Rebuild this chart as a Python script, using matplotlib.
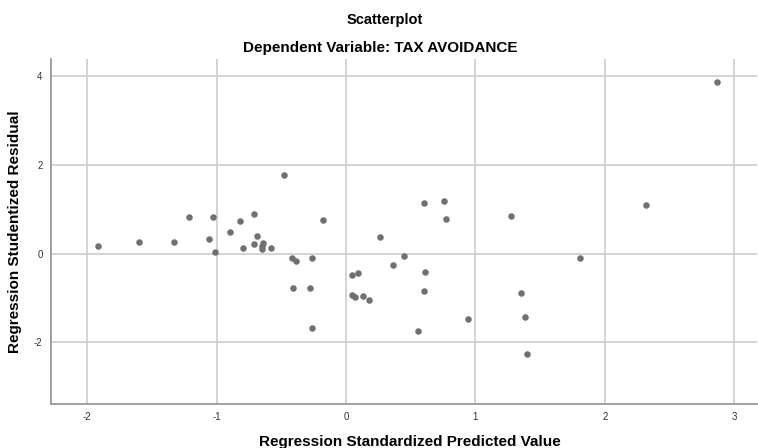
import matplotlib
matplotlib.use("Agg")
import matplotlib.pyplot as plt

plt.rcParams['font.family'] = ['Liberation Sans', 'DejaVu Sans']
plt.rcParams['axes.unicode_minus'] = False

# regression standardized predicted value
pred = [-1.92, -1.60, -1.33, -1.21, -1.06, -1.03, -1.01, -0.90, -0.82, -0.80,
        -0.71, -0.69, -0.71, -0.64, -0.65, -0.65, -0.58, -0.48, -0.42, -0.39,
        -0.26, -0.18, 0.05, 0.09, 0.26, 0.605, 0.757, 0.773, 1.273, 2.316,
        0.45, 0.36, 0.61, 1.81, 2.87,
        -0.41, -0.28, -0.26, 0.05, 0.07, 0.13, 0.18,
        0.60, 0.556, 0.94, 1.35, 1.386, 1.40]
# regression studentized residual
resid = [0.18, 0.27, 0.27, 0.82, 0.34, 0.83, 0.05, 0.50, 0.74, 0.14,
         0.89, 0.41, 0.23, 0.25, 0.17, 0.11, 0.12, 1.77, -0.10, -0.16,
         -0.10, 0.77, -0.47, -0.43, 0.38, 1.15, 1.20, 0.78, 0.85, 1.11,
         -0.06, -0.25, -0.42, -0.10, 3.87,
         -0.78, -0.78, -1.68, -0.94, -0.98, -0.95, -1.04,
         -0.83, -1.74, -1.47, -0.88, -1.42, -2.27]

xticks = [-2, -1, 0, 1, 2, 3]
yticks = [-2, 0, 2, 4]

fig = plt.figure(figsize=(7.58, 4.48), dpi=100)
ax = fig.add_axes([0.0673, 0.098, 0.932, 0.77])

ax.scatter(pred, resid, s=22, color='#707070', zorder=3, linewidths=0)

ax.set_xlim(-2.28, 3.18)
ax.set_ylim(-3.39, 4.39)
ax.set_xticks(xticks)
ax.set_yticks(yticks)
ax.tick_params(length=0, labelsize=7, colors='#333333', pad=6)
ax.grid(True, color='#d0d0d0', linewidth=1.3, zorder=0)

for side in ['top', 'right']:
    ax.spines[side].set_visible(False)
for side in ['left', 'bottom']:
    ax.spines[side].set_color('#999999')
    ax.spines[side].set_linewidth(1.3)

ax.set_xlabel('Regression Standardized Predicted Value', fontsize=11, fontweight='bold', va='baseline')
ax.xaxis.set_label_coords(0.508, -0.122)
ax.set_ylabel('Regression Studentized Residual', fontsize=11, fontweight='bold', va='center')
ax.yaxis.set_label_coords(-0.051, 0.5)

fig.text(0.507, 0.955, 'Scatterplot', ha='center', va='center', fontsize=10.5, fontweight='bold')
fig.text(0.502, 0.893, 'Dependent Variable: TAX AVOIDANCE', ha='center', va='center', fontsize=11, fontweight='bold')

fig.savefig('out.png', dpi=100)
